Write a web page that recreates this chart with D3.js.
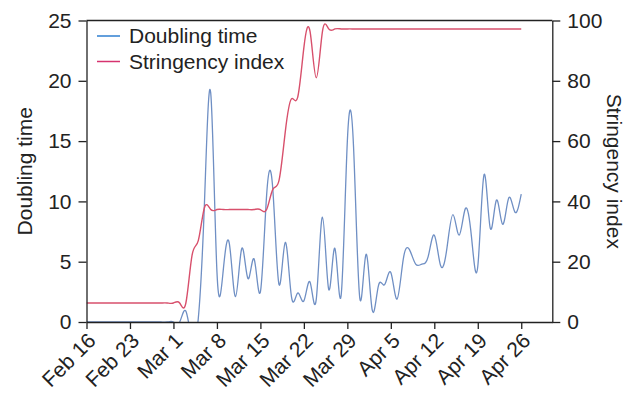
<!DOCTYPE html>
<html lang="en">
<head>
    <meta charset="UTF-8">
    <title>Doubling time and stringency index</title>
    <script src="https://d3js.org/d3.v7.min.js"></script>
    <style>
        body { margin: 0; background: #fff; }
        svg { font-family: "Liberation Sans", Arial, sans-serif; }
        .axis path, .axis line { stroke: #222; stroke-width: 1.3; }
        .axis text { font-size: 21px; fill: #222; }
    </style>
</head>
<body>
    <svg width="634" height="393"></svg>

    <script>
        // daily values, Feb 16 .. Apr 26 2020
        const startDate = "2020-02-16";
        const doublingTime = [
            0, 0, 0, 0, 0, 0, 0, 0, 0, 0, 0, 0, 0, 0, 0, 0, 0.9, -1.5, 0.3,
            10, 19, 4.2, 4.2, 6.5, 2.1, 6.1, 3.6, 5.2, 2.5, 10.5,
            11.0, 3.1, 6.6, 2.1, 2.4, 1.75, 3.3, 1.9, 8.7, 2.7,
            6.1, 2.2, 15.0, 14.5, 2.0, 5.6, 1.0, 3.0, 3.1, 4.1,
            1.9, 5.2, 6.0, 4.8, 4.8, 5.4, 7.2, 4.7, 6.0, 8.9,
            7.2, 9.4, 7.0, 4.6, 12.2, 7.8, 10.1, 8.1, 10.3, 9.1,
            10.6
        ];
        const stringency = [
            6.3, 6.3, 6.3, 6.3, 6.3, 6.3, 6.3, 6.3, 6.3, 6.3,
            6.3, 6.3, 6.3, 6.3, 6.3, 6.3, 6.3, 22.2, 27, 38,
            37.3, 37.3, 37.3, 37.3, 37.3, 37.3, 37.3, 37.3, 37.3, 37.3,
            44, 47, 63, 74, 74.5, 91, 96.3, 81, 96.5, 97.2,
            97.2, 97.2, 97.2, 97.2, 97.2, 97.2, 97.2, 97.2, 97.2, 97.2,
            97.2, 97.2, 97.2, 97.2, 97.2, 97.2, 97.2, 97.2, 97.2, 97.2,
            97.2, 97.2, 97.2, 97.2, 97.2, 97.2, 97.2, 97.2, 97.2, 97.2,
            97.2
        ];
        const leftTicks = [0, 5, 10, 15, 20, 25];
        const rightTicks = [0, 20, 40, 60, 80, 100];
        const seriesNames = ["Doubling time", "Stringency index"];

        const svg = d3.select("svg");
        const m = {left: 86.5, right: 552.3, top: 20.5, bottom: 322};

        const t0 = new Date(startDate + "T00:00:00Z");
        const dates = d3.range(doublingTime.length).map(i => d3.utcDay.offset(t0, i));

        const x = d3.scaleUtc()
            .domain([t0, d3.utcDay.offset(t0, 75)])
            .range([m.left, m.right]);
        const yL = d3.scaleLinear().domain([0, 25]).range([m.bottom, m.top]);
        const yR = d3.scaleLinear().domain([0, 100]).range([m.bottom, m.top]);

        svg.append("clipPath").attr("id", "plot")
            .append("rect")
            .attr("x", m.left).attr("y", m.top)
            .attr("width", m.right - m.left).attr("height", m.bottom - m.top);

        const lineL = d3.line()
            .x((d, i) => x(dates[i]))
            .y(d => yL(d))
            .curve(d3.curveNatural);
        const lineR = d3.line()
            .x((d, i) => x(dates[i]))
            .y(d => yR(d))
            .curve(d3.curveNatural);

        const plot = svg.append("g").attr("clip-path", "url(#plot)");
        plot.append("path")
            .datum(doublingTime)
            .attr("d", lineL)
            .attr("fill", "none")
            .attr("stroke", "#6f8fc4")
            .attr("stroke-width", 1.3);
        plot.append("path")
            .datum(stringency)
            .attr("d", lineR)
            .attr("fill", "none")
            .attr("stroke", "#d8506c")
            .attr("stroke-width", 1.4);

        // axes
        const xAxis = svg.append("g")
            .attr("class", "axis")
            .attr("transform", `translate(0,${m.bottom})`)
            .call(d3.axisBottom(x)
                .ticks(d3.utcWeek.every(1))
                .tickFormat(d3.utcFormat("%b %-d"))
                .tickSize(7)
                .tickSizeOuter(0));
        xAxis.selectAll("text")
            .attr("text-anchor", "end")
            .attr("dy", null)
            .attr("y", null)
            .attr("transform", "translate(10,20) rotate(-45)");

        svg.append("g")
            .attr("class", "axis")
            .attr("transform", `translate(${m.left},0)`)
            .call(d3.axisLeft(yL).tickValues(leftTicks).tickSize(8).tickPadding(7).tickSizeOuter(0));

        svg.append("g")
            .attr("class", "axis")
            .attr("transform", `translate(${m.right},0)`)
            .call(d3.axisRight(yR).tickValues(rightTicks).tickSize(8).tickPadding(7).tickSizeOuter(0));

        svg.append("line")
            .attr("x1", m.left).attr("x2", m.right)
            .attr("y1", m.top).attr("y2", m.top)
            .attr("stroke", "#222").attr("stroke-width", 1.3);

        // axis titles
        svg.append("text")
            .attr("transform", `translate(25,${(m.top + m.bottom) / 2}) rotate(-90)`)
            .attr("text-anchor", "middle")
            .attr("dy", "0.35em")
            .attr("font-size", 21)
            .attr("fill", "#222")
            .text("Doubling time");
        svg.append("text")
            .attr("transform", `translate(614,${(m.top + m.bottom) / 2}) rotate(90)`)
            .attr("text-anchor", "middle")
            .attr("dy", "0.35em")
            .attr("font-size", 21)
            .attr("fill", "#222")
            .text("Stringency index");

        // legend
        const legendColors = ["#2f7fd0", "#d6336f"];
        const legend = svg.append("g").attr("transform", "translate(97,36)");
        seriesNames.forEach((name, i) => {
            const row = legend.append("g").attr("transform", `translate(0,${i * 25.5})`);
            row.append("line")
                .attr("x1", 0).attr("x2", 23)
                .attr("stroke", legendColors[i])
                .attr("stroke-width", 1.5);
            row.append("text")
                .attr("x", 32)
                .attr("dy", "0.35em")
                .attr("font-size", 21)
                .attr("fill", "#222")
                .text(name);
        });
    </script>
</body>
</html>
